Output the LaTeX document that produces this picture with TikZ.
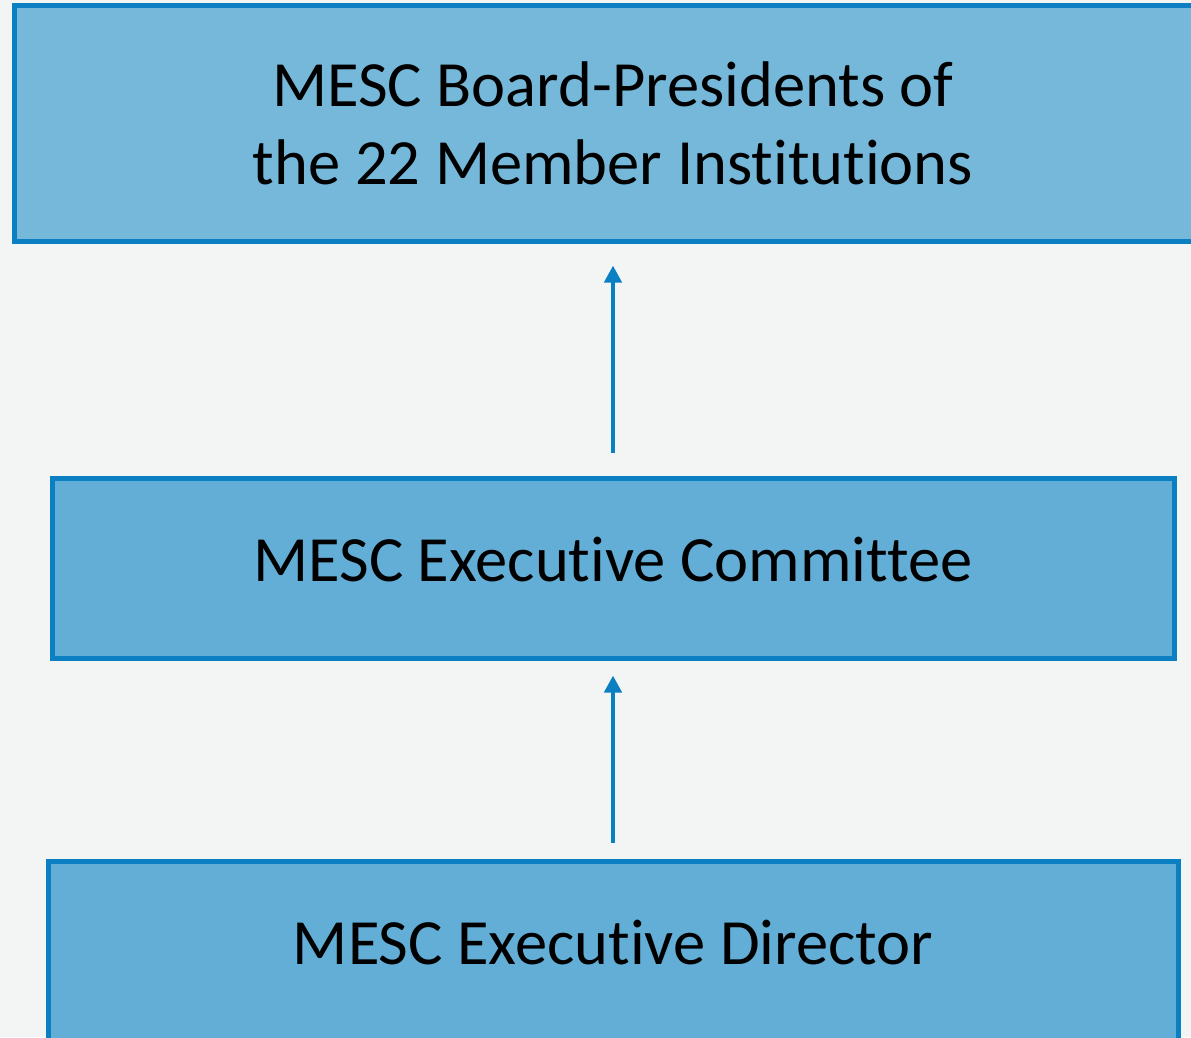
\documentclass[tikz,border=0pt]{standalone}
\usepackage{fontspec}
\setmainfont{Carlito}[Ligatures=NoCommon]
\usetikzlibrary{arrows.meta}
\definecolor{mescline}{HTML}{0A80C2}
\definecolor{mescfill}{HTML}{62AED6}
\definecolor{mesctop}{HTML}{75B8DA}
\definecolor{mescbg}{HTML}{F2F5F4}
\begin{document}
\begin{tikzpicture}[x=1pt, y=-1pt]
\tikzset{every node/.style={draw=mescline, line width=5pt, fill=mescfill,
                            font=\fontsize{64.5}{78}\selectfont, align=center,
                            inner sep=0pt}}
\tikzset{uparrow/.style={draw=mescline, line width=4.5pt,
                         -{Triangle[length=17pt,width=17pt]}}}
\useasboundingbox (0,0) rectangle (1191,1037);
\fill[mescbg] (0,0) rectangle (1191,1037);
\begin{scope}
\clip (0,0) rectangle (1191,1037);
\node[fill=mesctop, minimum width=1198pt, minimum height=236pt] (board) at (613,123)
    {MESC Board-Presidents of\\the 22 Member Institutions};
\node[minimum width=1122pt, minimum height=180pt] (committee) at (613,568)
    {\raisebox{17pt}{MESC Executive Committee}};
\node[minimum width=1130pt, minimum height=186pt, text depth=0pt] (director) at (613,954)
    {\raisebox{24pt}{MESC Executive Director}};
\end{scope}
%\draw[uparrow] (committee) -- (board);
\draw[uparrow, shorten <=23pt, shorten >=22pt] (committee.north) -- (board.south);
\draw[uparrow, shorten <=16pt, shorten >=15pt] (director.north) -- (committee.south);
\end{tikzpicture}
\end{document}
